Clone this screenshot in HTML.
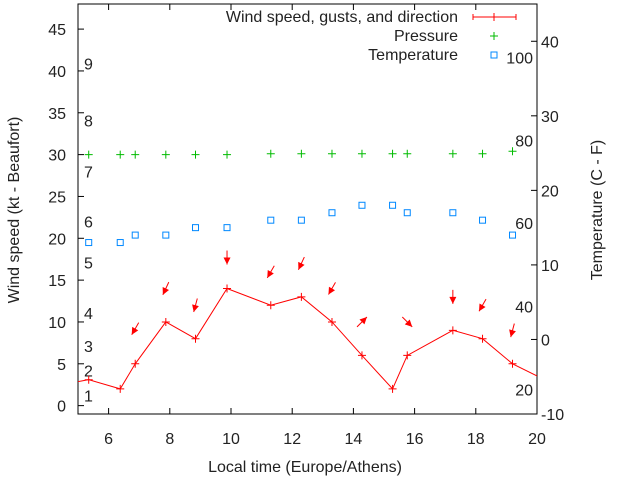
<!DOCTYPE html>
<html><head><meta charset="utf-8"><style>
body{margin:0;background:#fff}
svg text{font-family:"Liberation Sans",sans-serif;font-size:16px;fill:#222}
</style></head><body>
<svg id="c" width="640" height="480" xmlns="http://www.w3.org/2000/svg"></svg>
<script>
const times=[5.35,6.38,6.87,7.87,8.84,9.87,11.3,12.3,13.3,14.28,15.28,15.76,17.25,18.22,19.2];
const windSpeed=[3.1,2,5,10,8,14,12,13,10,6,2,6,9,8,5];
const windLineStart=[4.3,2.4];
const windLineEnd=[20.3,3];
const gustTimes=[6.87,7.87,8.84,9.87,11.3,12.3,13.3,14.28,15.76,17.25,18.22,19.2];
const gustSpeed=[9.2,14,12,17.7,16,17,14,10,10,13,12,9];
const gustDir=[30,25,15,0,30,25,30,225,315,0,30,15];
const pressure=[30,30,30,30,30,30,30.1,30.1,30.1,30.1,30.1,30.1,30.1,30.1,30.4];
const temperature=[13,13,14,14,15,15,16,16,17,18,18,17,17,16,14];
const xTicks=[6,8,10,12,14,16,18,20];
const yTicks=[0,5,10,15,20,25,30,35,40,45];
const y2Ticks=[-10,0,10,20,30,40];
const beaufortLabels=["1","2","3","4","5","6","7","8","9"];
const beaufortY=[1.2,4.2,7.1,11.1,17.1,22,28,34.1,40.9];
const fahrLabels=["20","40","60","80","100"];
const fahrC=[-6.7,4.4,15.6,26.7,37.8];

const L=78,R=537,T=4,B=414;
const X=v=>L+(v-5)/15*(R-L);
const Y=v=>B-(v+1)/49*(B-T);
const Y2=v=>B-(v+10)/55*(B-T);
const svg=document.getElementById('c');
const NS='http://www.w3.org/2000/svg';
function mk(tag,attrs,name,parent){const e=document.createElementNS(NS,tag);for(const k in attrs)e.setAttribute(k,attrs[k]);


(parent||svg).appendChild(e);return e;}
function txt(x,y,s,anchor,name,extra){const t=mk('text',Object.assign({x:x,y:y,'text-anchor':anchor},extra||{}),name);t.textContent=s;return t;}

mk('rect',{x:L,y:T,width:R-L,height:B-T,fill:'none',stroke:'#000','stroke-width':1},'plot-frame');
xTicks.forEach(v=>{mk('line',{x1:X(v),x2:X(v),y1:B,y2:B-6,stroke:'#000'},'x-tick');mk('line',{x1:X(v),x2:X(v),y1:T,y2:T+6,stroke:'#000'},'x-tick-top');txt(X(v),444,String(v),'middle','x-tick-label');});
yTicks.forEach(v=>{mk('line',{x1:L,x2:L+6,y1:Y(v),y2:Y(v),stroke:'#000'},'y-tick');txt(L-12,Y(v)+6,String(v),'end','y-tick-label');});
y2Ticks.forEach(v=>{mk('line',{x1:R,x2:R-6,y1:Y2(v),y2:Y2(v),stroke:'#000'},'y2-tick');txt(R+4,Y2(v)+6,String(v),'start','y2-tick-label');});
beaufortLabels.forEach((s,i)=>txt(84,Y(beaufortY[i])+6,s,'start','beaufort-label'));
fahrLabels.forEach((s,i)=>txt(533,Y2(fahrC[i])+6,s,'end','fahrenheit-label'));
txt(305,472,'Local time (Europe/Athens)','middle','x-axis-title');
txt(0,0,'Wind speed (kt - Beaufort)','middle','y-axis-title',{transform:'translate(19,210) rotate(-90)'});
txt(0,0,'Temperature (C - F)','middle','y2-axis-title',{transform:'translate(602,210) rotate(-90)'});

const g=mk('g',{'clip-path':'url(#clip)'},'wind-series');
const cp=mk('clipPath',{id:'clip'},'clip');mk('rect',{x:L,y:T,width:R-L,height:B-T},'clip-rect',cp);
let pts=[[X(windLineStart[0]),Y(windLineStart[1])]];
times.forEach((t,i)=>pts.push([X(t),Y(windSpeed[i])]));
pts.push([X(windLineEnd[0]),Y(windLineEnd[1])]);
mk('polyline',{points:pts.map(p=>p.join(',')).join(' '),fill:'none',stroke:'#f00','stroke-width':1},'wind-line',g);
function plus(x,y,c,name){mk('path',{d:`M${x-4},${y}h8M${x},${y-4}v8`,stroke:c,'stroke-width':1},name);}
times.forEach((t,i)=>plus(X(t),Y(windSpeed[i]),'#f00','wind-point'));
gustTimes.forEach((t,i)=>{const cx=X(t),cy=Y(gustSpeed[i]);const a=gustDir[i]*Math.PI/180;
const dx=-Math.sin(a),dy=Math.cos(a);const len=14;
const x0=cx-dx*len/2,y0=cy-dy*len/2,x1=cx+dx*len/2,y1=cy+dy*len/2;
mk('line',{x1:x0,y1:y0,x2:x1,y2:y1,stroke:'#f00','stroke-width':1},'gust-arrow-shaft');
const px=-dy,py=dx;
mk('polygon',{points:`${x1},${y1} ${x1-dx*7+px*3.5},${y1-dy*7+py*3.5} ${x1-dx*7-px*3.5},${y1-dy*7-py*3.5}`,fill:'#f00'},'gust-arrow-head');});
times.forEach((t,i)=>plus(X(t),Y(pressure[i]),'#0b0','pressure-point'));
times.forEach((t,i)=>mk('rect',{x:X(t)-3,y:Y2(temperature[i])-3,width:6,height:6,fill:'none',stroke:'#08f','stroke-width':1},'temperature-point'));

txt(458,22,'Wind speed, gusts, and direction','end','legend-wind-label');
mk('path',{d:'M473,17h43M473,14v6M516,14v6M494,13v8',stroke:'#f00'},'legend-wind-sample');
txt(458,41,'Pressure','end','legend-pressure-label');
plus(494,36,'#0b0','legend-pressure-sample');
txt(458,60,'Temperature','end','legend-temperature-label');
mk('rect',{x:491,y:52,width:6,height:6,fill:'none',stroke:'#08f'},'legend-temperature-sample');
</script>
</body></html>
